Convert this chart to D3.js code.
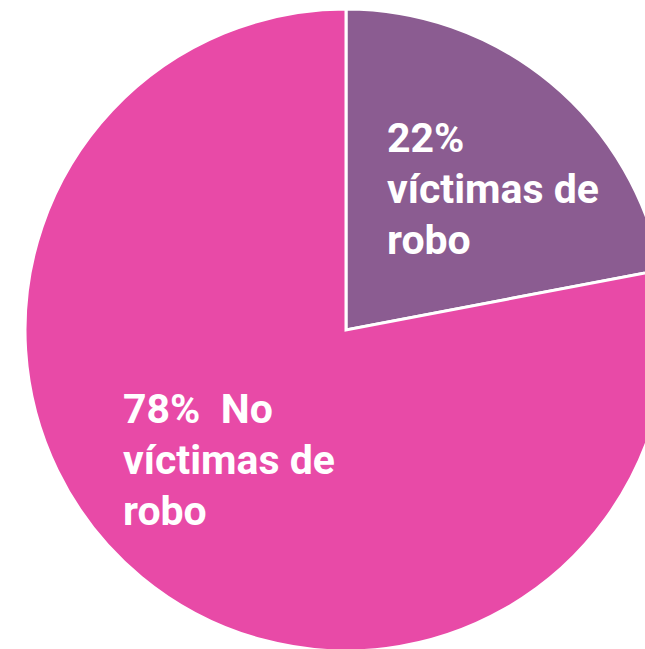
<!DOCTYPE html>
<html><head><meta charset="utf-8">
<script src="https://cdn.jsdelivr.net/npm/d3@7"></script>
<style>html,body{margin:0;padding:0;background:#fff;overflow:hidden}</style>
</head><body>
<svg id="chart" width="645" height="649"></svg>
<script>
const categories = ["víctimas de robo", "No víctimas de robo"];
const values = [22, 78];
const colors = ["#8B5C91", "#E84AA7"];
const labelLines = [
  ["22%", "víctimas de", "robo"],
  ["78%  No", "víctimas de", "robo"]
];

const svg = d3.select("#chart");
const cx = 346, cy = 330, r = 321;
const g = svg.append("g").attr("transform", `translate(${cx},${cy})`);

const pie = d3.pie().sort(null).value(d => d.v);
const data = categories.map((c, i) => ({c, v: values[i], i}));
const arcs = pie(data);
const arc = d3.arc().innerRadius(0).outerRadius(r);

g.selectAll("path").data(arcs).enter().append("path")
  .attr("d", arc)
  .attr("fill", d => colors[d.data.i])
  .attr("stroke", "#fff")
  .attr("stroke-width", 3)
  .attr("stroke-linejoin", "miter");

const labelPos = [[41, -178], [-223, 93]];
const lineH = 51;
arcs.forEach((a, i) => {
  const t = g.append("text")
    .attr("x", labelPos[i][0]).attr("y", labelPos[i][1])
    .attr("fill", "#fff")
    .attr("font-family", "Roboto, 'Open Sans', sans-serif")
    .attr("font-weight", 700)
    .attr("font-size", 41)
    .attr("xml:space", "preserve")
    .style("white-space", "pre");
  labelLines[i].forEach((ln, j) => {
    t.append("tspan").attr("x", labelPos[i][0]).attr("dy", j === 0 ? 0 : lineH).text(ln);
  });
});
</script>
</body></html>
